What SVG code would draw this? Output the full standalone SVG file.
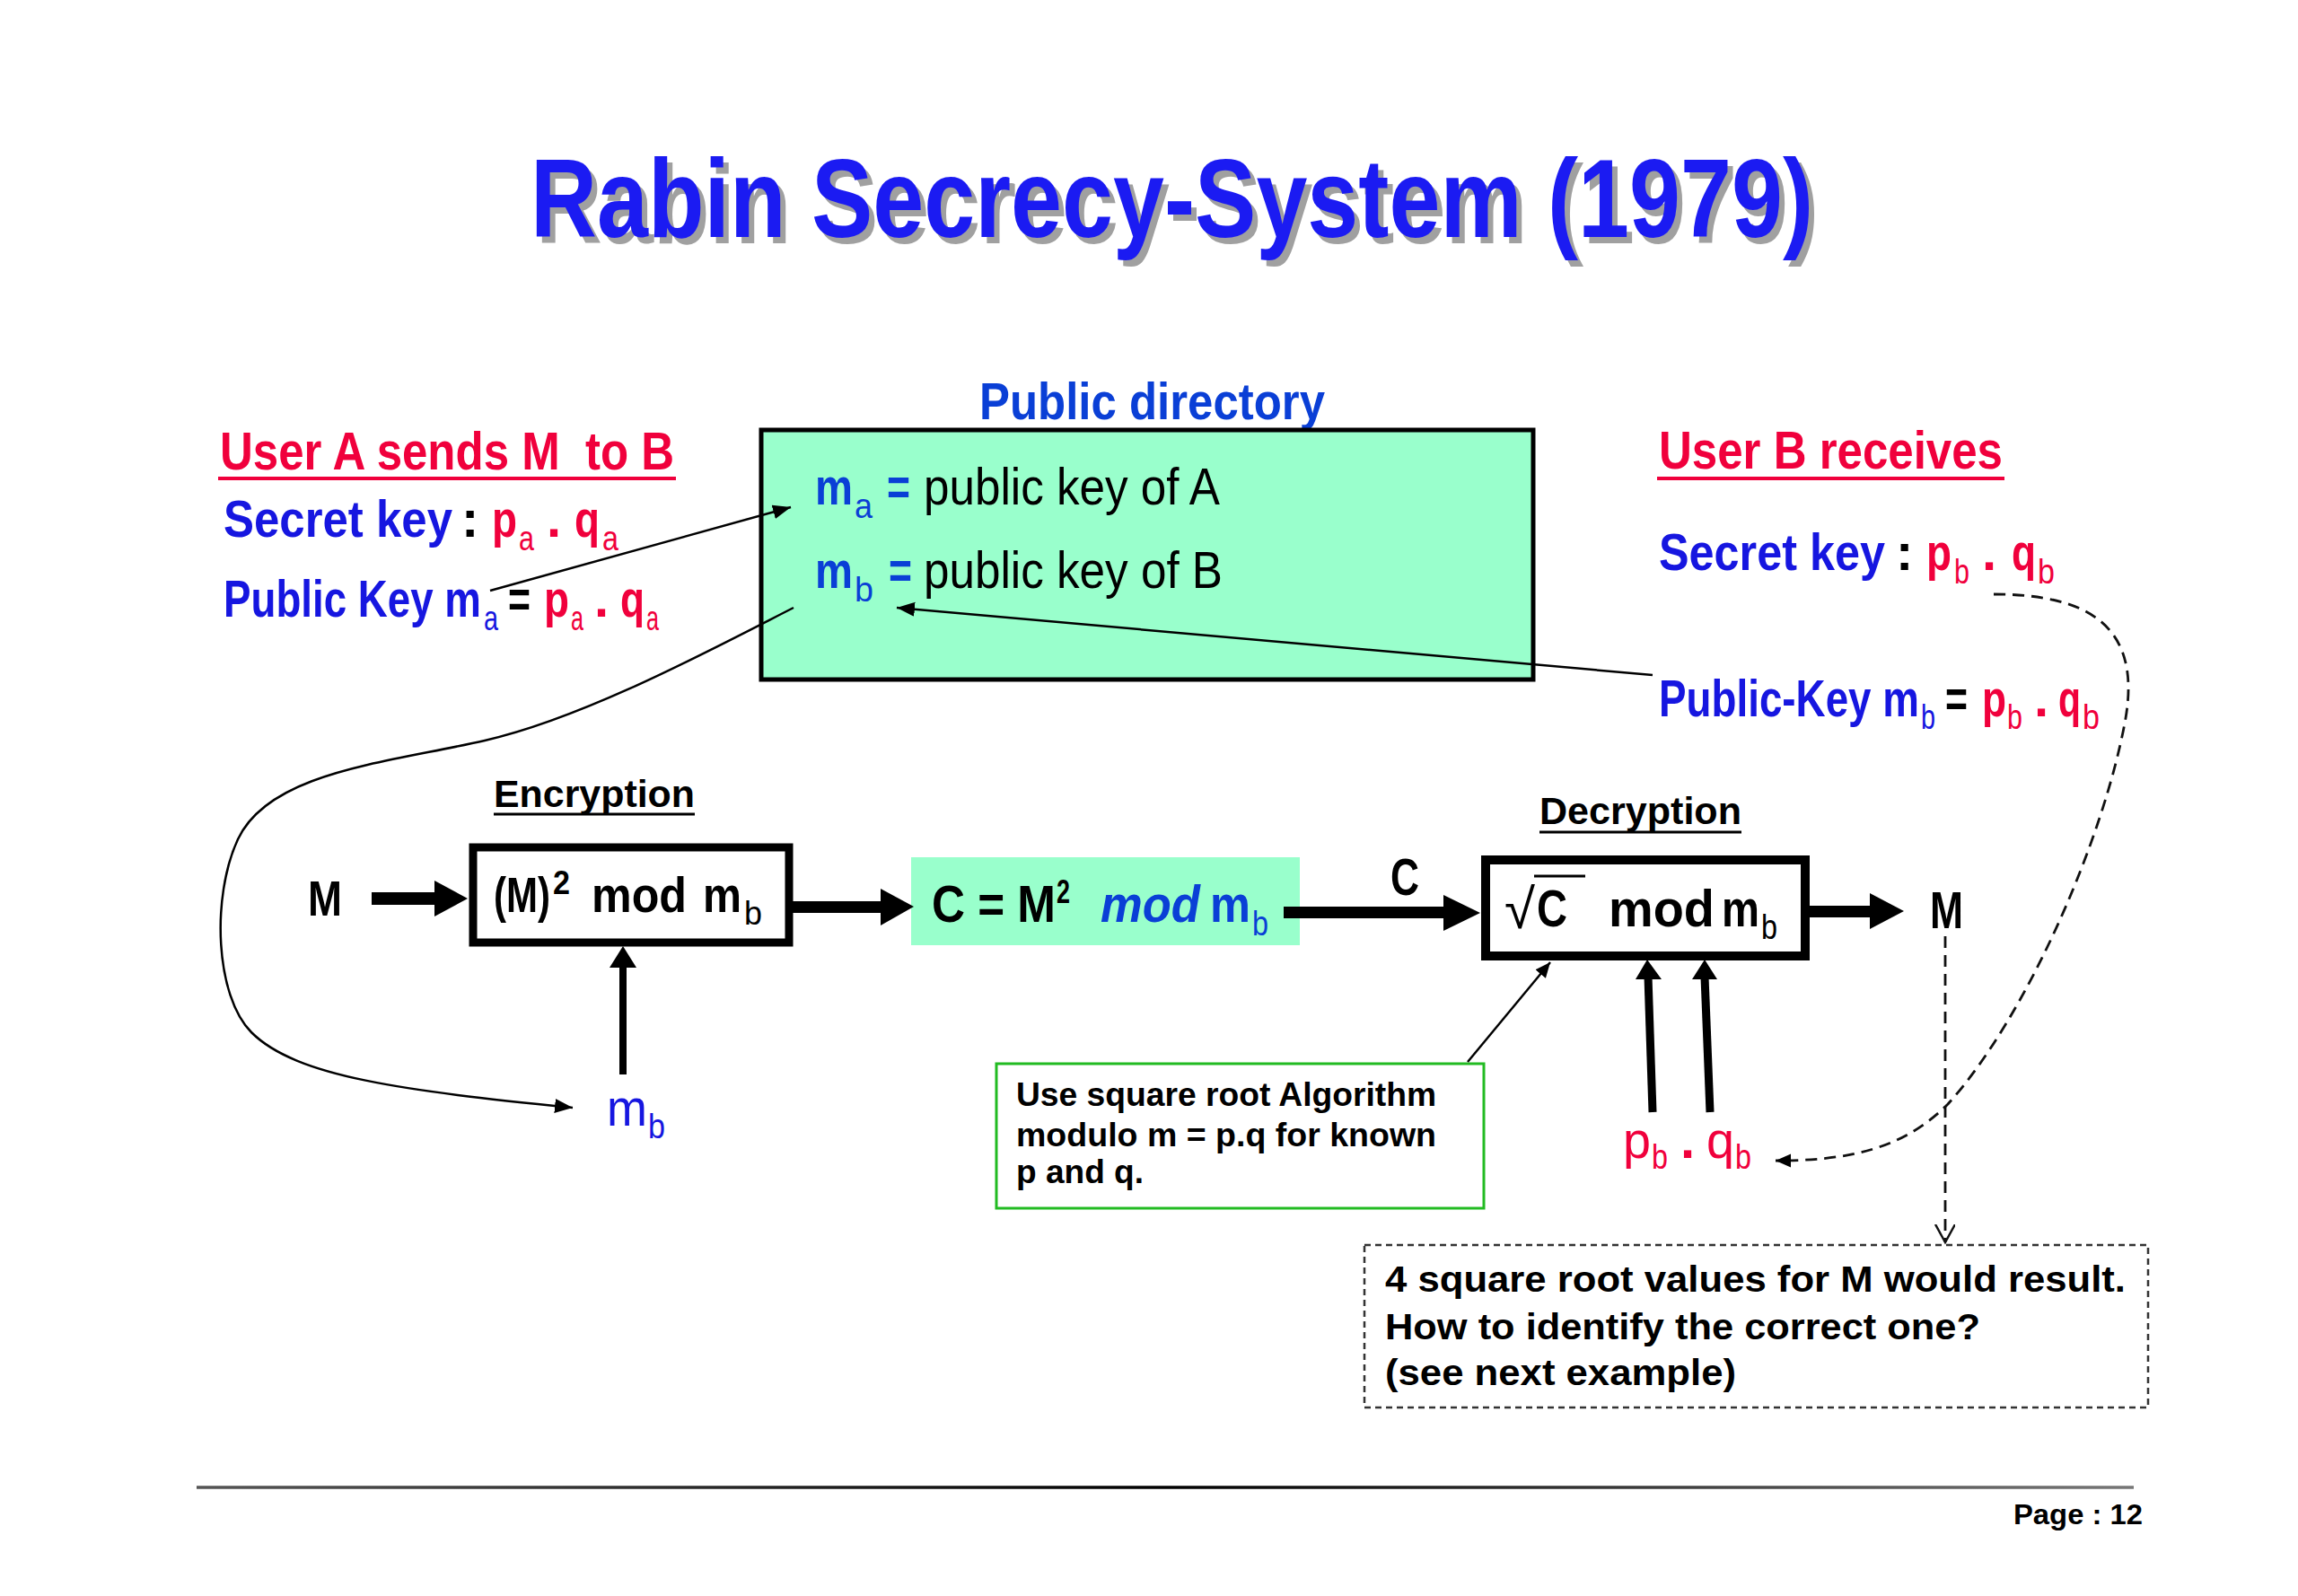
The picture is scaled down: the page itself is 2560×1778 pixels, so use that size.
<svg xmlns="http://www.w3.org/2000/svg" width="2560" height="1778" viewBox="0 0 2560 1778">
<style>
.b{font-family:"Liberation Sans",Arial,sans-serif;font-weight:bold}
.n{font-family:"Liberation Sans",Arial,sans-serif;font-weight:normal}
.red{fill:#f0003c}
.blue{fill:#1616e0}
.dblue{fill:#0a3fd6}
.blk{fill:#000}
.thin{fill:none;stroke:#000;stroke-width:2.5}
.dash{fill:none;stroke:#111;stroke-width:2.8;stroke-dasharray:13 8}
.thick{stroke:#000;fill:none}
</style>
<defs>
<marker id="ah" markerUnits="userSpaceOnUse" markerWidth="22" markerHeight="18" refX="20" refY="8" orient="auto">
<path d="M0,0 L20,8 L0,16 z" fill="#000"/>
</marker>
<marker id="ahs" markerUnits="userSpaceOnUse" markerWidth="20" markerHeight="16" refX="17" refY="7.5" orient="auto">
<path d="M0,0 L17,7.5 L0,15 z" fill="#000"/>
</marker>
<marker id="open" markerUnits="userSpaceOnUse" markerWidth="24" markerHeight="26" refX="20" refY="11" orient="auto">
<path d="M0,0 L20,11 L0,22" fill="none" stroke="#111" stroke-width="2.5"/>
</marker>
<linearGradient id="fg" gradientUnits="userSpaceOnUse" x1="219" y1="0" x2="2377" y2="0">
<stop offset="0" stop-color="#555"/>
<stop offset="0.5" stop-color="#000"/>
<stop offset="1" stop-color="#777"/>
</linearGradient>
</defs>
<rect width="2560" height="1778" fill="#fff"/>

<g id="title">
<text x="597" y="271" class="b" font-size="125" fill="#a0a0a0" textLength="1429" lengthAdjust="spacingAndGlyphs">Rabin Secrecy-System (1979)</text>
<text x="591" y="264" class="b" font-size="125" fill="#1b1bf2" textLength="1429" lengthAdjust="spacingAndGlyphs">Rabin Secrecy-System (1979)</text>
</g>

<g id="userA">
<text x="245" y="523" class="b red" font-size="60" textLength="506" lengthAdjust="spacingAndGlyphs">User A sends M&#160; to B</text>
<line x1="243" y1="533" x2="753" y2="533" stroke="#f0003c" stroke-width="4"/>
<text x="249" y="598" class="b blue" font-size="58" textLength="255" lengthAdjust="spacingAndGlyphs">Secret key</text>
<text x="514" y="598" class="b blk" font-size="58">:</text>
<text x="548" y="598" class="b red" font-size="58" textLength="28" lengthAdjust="spacingAndGlyphs">p</text>
<text x="578" y="613" class="n red" font-size="38" textLength="17" lengthAdjust="spacingAndGlyphs">a</text>
<text x="609" y="598" class="b red" font-size="58">.</text>
<text x="640" y="598" class="b red" font-size="58" textLength="28" lengthAdjust="spacingAndGlyphs">q</text>
<text x="671" y="613" class="n red" font-size="38" textLength="18" lengthAdjust="spacingAndGlyphs">a</text>
<text x="249" y="687" class="b blue" font-size="58" textLength="287" lengthAdjust="spacingAndGlyphs">Public Key m</text>
<text x="539" y="702" class="n blue" font-size="38" textLength="16" lengthAdjust="spacingAndGlyphs">a</text>
<text x="566" y="687" class="b blk" font-size="58" textLength="25" lengthAdjust="spacingAndGlyphs">=</text>
<text x="606" y="687" class="b red" font-size="58" textLength="28" lengthAdjust="spacingAndGlyphs">p</text>
<text x="636" y="702" class="n red" font-size="38" textLength="14" lengthAdjust="spacingAndGlyphs">a</text>
<text x="662" y="687" class="b red" font-size="58">.</text>
<text x="691" y="687" class="b red" font-size="58" textLength="27" lengthAdjust="spacingAndGlyphs">q</text>
<text x="720" y="702" class="n red" font-size="38" textLength="14" lengthAdjust="spacingAndGlyphs">a</text>
</g>

<g id="directory">
<text x="1091" y="467" class="b dblue" font-size="58" textLength="385" lengthAdjust="spacingAndGlyphs">Public directory</text>
<rect x="848" y="479" width="860" height="278" fill="#99ffcc" stroke="#000" stroke-width="5"/>
<text x="908" y="562" class="b dblue" font-size="58" textLength="42" lengthAdjust="spacingAndGlyphs">m</text>
<text x="952" y="577" class="n dblue" font-size="38" textLength="20" lengthAdjust="spacingAndGlyphs">a</text>
<text x="988" y="562" class="b dblue" font-size="58" textLength="26" lengthAdjust="spacingAndGlyphs">=</text>
<text x="1029" y="562" class="n blk" font-size="58" textLength="330" lengthAdjust="spacingAndGlyphs">public key of A</text>
<text x="908" y="655" class="b dblue" font-size="58" textLength="42" lengthAdjust="spacingAndGlyphs">m</text>
<text x="952" y="670" class="n dblue" font-size="38" textLength="21" lengthAdjust="spacingAndGlyphs">b</text>
<text x="990" y="655" class="b dblue" font-size="58" textLength="26" lengthAdjust="spacingAndGlyphs">=</text>
<text x="1029" y="655" class="n blk" font-size="58" textLength="333" lengthAdjust="spacingAndGlyphs">public key of B</text>
</g>

<g id="userB">
<text x="1848" y="522" class="b red" font-size="60" textLength="383" lengthAdjust="spacingAndGlyphs">User B receives</text>
<line x1="1846" y1="533" x2="2233" y2="533" stroke="#f0003c" stroke-width="4"/>
<text x="1848" y="635" class="b blue" font-size="58" textLength="252" lengthAdjust="spacingAndGlyphs">Secret key</text>
<text x="2112" y="635" class="b blk" font-size="58">:</text>
<text x="2146" y="635" class="b red" font-size="58" textLength="28" lengthAdjust="spacingAndGlyphs">p</text>
<text x="2177" y="650" class="n red" font-size="38" textLength="17" lengthAdjust="spacingAndGlyphs">b</text>
<text x="2208" y="635" class="b red" font-size="58">.</text>
<text x="2241" y="635" class="b red" font-size="58" textLength="27" lengthAdjust="spacingAndGlyphs">q</text>
<text x="2270" y="650" class="n red" font-size="38" textLength="19" lengthAdjust="spacingAndGlyphs">b</text>
<text x="1848" y="798" class="b blue" font-size="58" textLength="290" lengthAdjust="spacingAndGlyphs">Public-Key m</text>
<text x="2140" y="812" class="n blue" font-size="38" textLength="16" lengthAdjust="spacingAndGlyphs">b</text>
<text x="2167" y="798" class="b blk" font-size="58" textLength="25" lengthAdjust="spacingAndGlyphs">=</text>
<text x="2208" y="798" class="b red" font-size="58" textLength="27" lengthAdjust="spacingAndGlyphs">p</text>
<text x="2236" y="812" class="n red" font-size="38" textLength="17" lengthAdjust="spacingAndGlyphs">b</text>
<text x="2266" y="798" class="b red" font-size="58">.</text>
<text x="2293" y="798" class="b red" font-size="58" textLength="25" lengthAdjust="spacingAndGlyphs">q</text>
<text x="2320" y="812" class="n red" font-size="38" textLength="19" lengthAdjust="spacingAndGlyphs">b</text>
</g>

<g id="encryption">
<text x="550" y="899" class="b blk" font-size="42" textLength="224" lengthAdjust="spacingAndGlyphs">Encryption</text>
<line x1="550" y1="907" x2="774" y2="907" stroke="#000" stroke-width="3"/>
<rect x="527" y="944" width="352" height="106" fill="#fff" stroke="#000" stroke-width="9"/>
<text x="550" y="1016" class="b blk" font-size="56" textLength="63" lengthAdjust="spacingAndGlyphs">(M)</text>
<text x="616" y="996" class="b blk" font-size="36" textLength="19" lengthAdjust="spacingAndGlyphs">2</text>
<text x="659" y="1016" class="b blk" font-size="56" textLength="106" lengthAdjust="spacingAndGlyphs">mod</text>
<text x="783" y="1016" class="b blk" font-size="56" textLength="43" lengthAdjust="spacingAndGlyphs">m</text>
<text x="829" y="1030" class="n blk" font-size="36" textLength="20" lengthAdjust="spacingAndGlyphs">b</text>
</g>

<g id="M-in">
<text x="343" y="1020" class="b blk" font-size="56" textLength="38" lengthAdjust="spacingAndGlyphs">M</text>
</g>

<g id="mb-enc">
<text x="676" y="1254" class="n blue" font-size="58" textLength="45" lengthAdjust="spacingAndGlyphs">m</text>
<text x="722" y="1268" class="n blue" font-size="38" textLength="19" lengthAdjust="spacingAndGlyphs">b</text>
</g>

<g id="cipher">
<rect x="1015" y="955" width="433" height="98" fill="#99ffcc"/>
<text x="1038" y="1027" class="b blk" font-size="58" textLength="138" lengthAdjust="spacingAndGlyphs">C = M</text>
<text x="1177" y="1006" class="b blk" font-size="36" textLength="15" lengthAdjust="spacingAndGlyphs">2</text>
<text x="1226" y="1027" class="b dblue" font-size="58" font-style="italic" textLength="111" lengthAdjust="spacingAndGlyphs">mod</text>
<text x="1348" y="1027" class="b dblue" font-size="58" textLength="45" lengthAdjust="spacingAndGlyphs">m</text>
<text x="1395" y="1042" class="n dblue" font-size="38" textLength="18" lengthAdjust="spacingAndGlyphs">b</text>
</g>

<g id="C-label">
<text x="1549" y="997" class="b blk" font-size="58" textLength="32" lengthAdjust="spacingAndGlyphs">C</text>
</g>

<g id="decryption">
<text x="1715" y="918" class="b blk" font-size="42" textLength="225" lengthAdjust="spacingAndGlyphs">Decryption</text>
<line x1="1715" y1="927" x2="1940" y2="927" stroke="#000" stroke-width="3"/>
<rect x="1655" y="958" width="356" height="107" fill="#fff" stroke="#000" stroke-width="10"/>
<text x="1676" y="1034" class="n blk" font-size="62" textLength="34" lengthAdjust="spacingAndGlyphs">√</text>
<line x1="1709" y1="976" x2="1766" y2="976" stroke="#000" stroke-width="3"/>
<text x="1712" y="1032" class="b blk" font-size="58" textLength="34" lengthAdjust="spacingAndGlyphs">C</text>
<text x="1792" y="1032" class="b blk" font-size="58" textLength="118" lengthAdjust="spacingAndGlyphs">mod</text>
<text x="1918" y="1032" class="b blk" font-size="58" textLength="42" lengthAdjust="spacingAndGlyphs">m</text>
<text x="1962" y="1046" class="n blk" font-size="38" textLength="18" lengthAdjust="spacingAndGlyphs">b</text>
</g>

<g id="M-out">
<text x="2150" y="1034" class="b blk" font-size="58" textLength="37" lengthAdjust="spacingAndGlyphs">M</text>
</g>

<g id="pq">
<text x="1808" y="1290" class="n red" font-size="58" textLength="31" lengthAdjust="spacingAndGlyphs">p</text>
<text x="1840" y="1302" class="n red" font-size="38" textLength="18" lengthAdjust="spacingAndGlyphs">b</text>
<text x="1872" y="1290" class="b red" font-size="58">.</text>
<text x="1901" y="1290" class="n red" font-size="58" textLength="31" lengthAdjust="spacingAndGlyphs">q</text>
<text x="1933" y="1302" class="n red" font-size="38" textLength="18" lengthAdjust="spacingAndGlyphs">b</text>
</g>

<g id="note">
<rect x="1110" y="1185" width="543" height="161" fill="#fff" stroke="#22bb22" stroke-width="3"/>
<text x="1132" y="1232" class="b blk" font-size="36" textLength="468" lengthAdjust="spacingAndGlyphs">Use square root Algorithm</text>
<text x="1132" y="1277" class="b blk" font-size="36" textLength="468" lengthAdjust="spacingAndGlyphs">modulo m = p.q for known</text>
<text x="1132" y="1318" class="b blk" font-size="36" textLength="142" lengthAdjust="spacingAndGlyphs">p and q.</text>
</g>

<g id="result">
<rect x="1520" y="1387" width="873" height="181" fill="#fff" stroke="#333" stroke-width="2.5" stroke-dasharray="7 5"/>
<text x="1543" y="1439" class="b blk" font-size="40" textLength="825" lengthAdjust="spacingAndGlyphs">4 square root values for M would result.</text>
<text x="1543" y="1492" class="b blk" font-size="40" textLength="663" lengthAdjust="spacingAndGlyphs">How to identify the correct one?</text>
<text x="1543" y="1543" class="b blk" font-size="40" textLength="391" lengthAdjust="spacingAndGlyphs">(see next example)</text>
</g>

<g id="connectors">
<line x1="546" y1="658" x2="881" y2="565" class="thin" marker-end="url(#ah)"/>
<line x1="1841" y1="752" x2="999" y2="677" class="thin" marker-end="url(#ah)"/>
<path d="M884,677 C790,725 650,800 540,825 C430,850 300,860 265,935 C235,1000 240,1110 280,1150 C330,1200 450,1215 638,1234" class="thin" marker-end="url(#ah)"/>
<line x1="1635" y1="1183" x2="1727" y2="1072" class="thin" marker-end="url(#ahs)"/>
<path d="M2221,662 C2330,662 2385,700 2368,800 C2345,930 2260,1130 2170,1230 C2120,1280 2060,1293 1978,1293" class="dash" marker-end="url(#ahs)"/>
<line x1="2167" y1="1043" x2="2167" y2="1384" class="dash" stroke-width="2.2" marker-end="url(#open)"/>
<rect x="414" y="994" width="72" height="14" fill="#000"/>
<polygon points="484,981 521,1001 484,1021" fill="#000"/>
<rect x="883" y="1004" width="100" height="13" fill="#000"/>
<polygon points="981,990 1018,1010 981,1031" fill="#000"/>
<rect x="1430" y="1010" width="182" height="13" fill="#000"/>
<polygon points="1608,997 1649,1017 1608,1037" fill="#000"/>
<rect x="2016" y="1009" width="70" height="13" fill="#000"/>
<polygon points="2083,995 2121,1015 2083,1035" fill="#000"/>
<line x1="694" y1="1197" x2="694" y2="1075" class="thick" stroke-width="8"/>
<polygon points="679,1078 694,1054 709,1078" fill="#000"/>
<line x1="1841" y1="1239" x2="1836" y2="1088" class="thick" stroke-width="9"/>
<polygon points="1822,1091 1835,1069 1851,1091" fill="#000"/>
<line x1="1905" y1="1239" x2="1899" y2="1088" class="thick" stroke-width="9"/>
<polygon points="1885,1091 1899,1069 1913,1091" fill="#000"/>
</g>

<g id="footer">
<line x1="219" y1="1657" x2="2377" y2="1657" stroke="url(#fg)" stroke-width="3.5"/>
<text x="2243" y="1698" class="b blk" font-size="32" textLength="144" lengthAdjust="spacingAndGlyphs">Page : 12</text>
</g>
</svg>
